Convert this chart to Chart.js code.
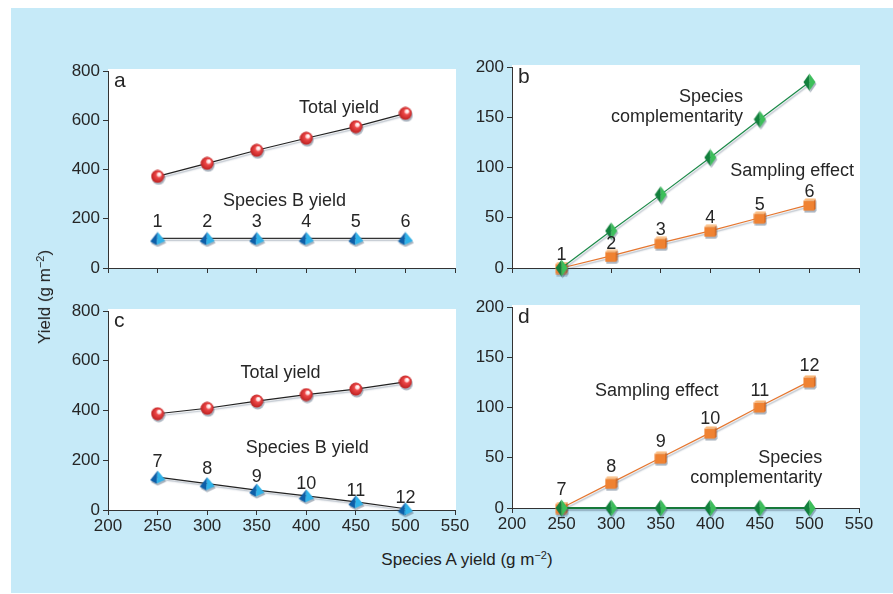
<!DOCTYPE html>
<html><head><meta charset="utf-8">
<script src="https://cdn.jsdelivr.net/npm/chart.js@4"></script>
<style>
body{margin:0;background:#fff;width:893px;height:594px;position:relative;overflow:hidden;font-family:"Liberation Sans",Arial,sans-serif;}
#bg{position:absolute;left:11px;top:8px;width:882px;height:585px;background:#c6eaf8;}
canvas{position:absolute;}
.title{position:absolute;color:#222;font-size:17px;white-space:nowrap;}
#xt{left:467px;top:560px;transform:translate(-50%,-50%);}
#yt{left:45px;top:297px;transform:translate(-50%,-50%) rotate(-90deg);}
sup{font-size:11px;vertical-align:6px;line-height:0;}
</style></head>
<body>
<div id="bg"></div>
<canvas id="pa"></canvas>
<canvas id="pb"></canvas>
<canvas id="pc"></canvas>
<canvas id="pd"></canvas>
<div class="title" id="xt">Species A yield (g m<sup>−2</sup>)</div>
<div class="title" id="yt">Yield (g m<sup>−2</sup>)</div>
<script>
// ---- data ----
const speciesAYield = [250, 300, 350, 400, 450, 500];
const xTickValues = [200, 250, 300, 350, 400, 450, 500, 550];
const yieldTicks = [0, 200, 400, 600, 800];
const effectTicks = [0, 50, 100, 150, 200];
const plotNumbersTop = ['1', '2', '3', '4', '5', '6'];
const plotNumbersBottom = ['7', '8', '9', '10', '11', '12'];
const totalYieldA = [372, 425, 478, 527, 574, 628];
const speciesBYieldA = [120, 120, 120, 120, 120, 120];
const complementarityB = [0, 37, 73, 110, 148, 185];
const samplingB = [0, 12, 25, 37, 50, 63];
const totalYieldC = [387, 409, 438, 464, 486, 515];
const speciesBYieldC = [132, 106, 80, 57, 33, 5];
const samplingD = [0, 25, 50, 75, 101, 126];
const complementarityD = [0, 0, 0, 0, 0, 0];

const FONT = '"Liberation Sans", Arial, sans-serif';
const TXT = '#262626';

// ---- marker images ----
function mk(w, h, draw){ const c=document.createElement('canvas'); c.width=w; c.height=h; draw(c.getContext('2d'), w, h); return c; }
const sphere = mk(14,14,(g,w,h)=>{
  const gr=g.createRadialGradient(9,4.5,0.5,7,7,7);
  gr.addColorStop(0,'#ffffff'); gr.addColorStop(0.22,'#ffd0d0'); gr.addColorStop(0.35,'#ef4a4a'); gr.addColorStop(1,'#b81c1c');
  g.fillStyle=gr; g.beginPath(); g.arc(7,7,6.5,0,Math.PI*2); g.fill();
});
const pyramid = mk(16,14,(g)=>{
  g.fillStyle='#0d5ea8'; g.beginPath(); g.moveTo(8,0.5); g.lineTo(0.5,10); g.lineTo(7,13.5); g.closePath(); g.fill();
  g.fillStyle='#2fb3ea'; g.beginPath(); g.moveTo(8,0.5); g.lineTo(7,13.5); g.lineTo(15.5,9.5); g.closePath(); g.fill();
});
const diamond = mk(13,18,(g)=>{
  g.fillStyle='#12803c'; g.beginPath(); g.moveTo(6.5,0.5); g.lineTo(0.5,9); g.lineTo(6.5,17.5); g.closePath(); g.fill();
  g.fillStyle='#3cbf5a'; g.beginPath(); g.moveTo(6.5,0.5); g.lineTo(12.5,9); g.lineTo(6.5,17.5); g.closePath(); g.fill();
});
const cube = mk(13,13,(g)=>{
  g.fillStyle='#ef8232'; g.fillRect(0.5,2.5,10.5,10);
  g.fillStyle='#f9b777'; g.beginPath(); g.moveTo(0.5,2.5); g.lineTo(2.5,0.5); g.lineTo(12.5,0.5); g.lineTo(11,2.5); g.closePath(); g.fill();
  g.fillStyle='#d8691f'; g.beginPath(); g.moveTo(11,2.5); g.lineTo(12.5,0.5); g.lineTo(12.5,10.5); g.lineTo(11,12.5); g.closePath(); g.fill();
});

// ---- helpers ----
const pts = vals => speciesAYield.map((x,i)=>({x, y: vals[i]}));
function series(vals, color, marker, width){
  return { data: pts(vals), showLine: true, borderColor: color, borderWidth: width||1.2,
    pointStyle: marker, pointRadius: 7, clip: false, tension: 0 };
}
function makeDecor(letter, texts, numbering){
  return {
    id: 'decor',
    beforeDraw(chart){ const {ctx, chartArea:a}=chart; ctx.save(); ctx.fillStyle='#fff';
      ctx.fillRect(a.left, a.top-2, a.right-a.left+1, a.bottom-a.top+2); ctx.restore(); },
    beforeDatasetDraw(chart){ const ctx=chart.ctx; ctx.save(); ctx.shadowColor='rgba(70,90,115,0.45)';
      ctx.shadowOffsetX=1; ctx.shadowOffsetY=2; ctx.shadowBlur=1.5; },
    afterDatasetDraw(chart){ chart.ctx.restore(); },
    afterDatasetsDraw(chart){
      const {ctx, chartArea:a, scales}=chart; ctx.save(); ctx.fillStyle=TXT; ctx.textBaseline='middle';
      ctx.font='21px '+FONT; ctx.textAlign='left'; ctx.fillText(letter, a.left+6, a.top+10);
      ctx.font='18px '+FONT;
      texts.forEach(t=>{ ctx.textAlign=t.align; ctx.fillText(t.text, scales.x.getPixelForValue(t.x), scales.y.getPixelForValue(t.y)); });
      const meta=chart.getDatasetMeta(numbering.dataset); ctx.textAlign='center';
      numbering.labels.forEach((l,i)=>{ const p=meta.data[i]; ctx.fillText(l, p.x, p.y-numbering.offsets[i]); });
      ctx.restore();
    }
  };
}
function makePanel(id, area, ticks, showX, datasets, decor){
  const cv=document.getElementById(id);
  const W=area.right-area.left+80, H=area.bottom-area.top+50;
  cv.width=W; cv.height=H; cv.style.left=(area.left-60)+'px'; cv.style.top=(area.top-20)+'px';
  const axisCommon = {
    grid:{drawOnChartArea:false, drawTicks:true, tickLength:5, color:'#333', lineWidth:1},
    border:{display:true, color:'#333', width:1}
  };
  new Chart(cv, {
    type:'scatter',
    data:{datasets},
    options:{
      responsive:false, animation:false, events:[],
      layout:{padding:{top:20, right:20, left:0, bottom:0}},
      plugins:{legend:{display:false}, tooltip:{enabled:false}},
      scales:{
        x:{...axisCommon, type:'linear', min:xTickValues[0], max:xTickValues[xTickValues.length-1],
          afterFit(s){ s.height=30; },
          ticks:{display:showX, stepSize:xTickValues[1]-xTickValues[0], color:TXT, padding:1, font:{family:FONT, size:17}}},
        y:{...axisCommon, type:'linear', min:ticks[0], max:ticks[ticks.length-1],
          afterFit(s){ s.width=60; },
          ticks:{stepSize:ticks[1]-ticks[0], color:TXT, padding:3, font:{family:FONT, size:17}}}
      }
    },
    plugins:[decor]
  });
}

// ---- panels ----
makePanel('pa', {left:108, right:455, top:71, bottom:268}, yieldTicks, false, [
  series(totalYieldA, '#222', sphere),
  series(speciesBYieldA, '#333', pyramid)
], makeDecor('a', [
  {text:'Total yield', x:433, y:650, align:'center'},
  {text:'Species B yield', x:378, y:272, align:'center'}
], {dataset:1, labels:plotNumbersTop, offsets:[16,16,16,16,16,16]}));

makePanel('pb', {left:512, right:859, top:67, bottom:268}, effectTicks, false, [
  series(complementarityB, '#1b8a48', diamond),
  series(samplingB, '#e5762f', cube)
], makeDecor('b', [
  {text:'Species', x:433, y:170, align:'right'},
  {text:'complementarity', x:433, y:150, align:'right'},
  {text:'Sampling effect', x:545, y:96, align:'right'}
], {dataset:1, labels:plotNumbersTop, offsets:[13,12,13,13,13,13]}));

makePanel('pc', {left:108, right:455, top:311, bottom:510}, yieldTicks, true, [
  series(totalYieldC, '#222', sphere),
  series(speciesBYieldC, '#222', pyramid)
], makeDecor('c', [
  {text:'Total yield', x:374, y:550, align:'center'},
  {text:'Species B yield', x:401, y:249, align:'center'}
], {dataset:1, labels:plotNumbersBottom, offsets:[15,15,13,12,11,11]}));

makePanel('pd', {left:512, right:859, top:307, bottom:508}, effectTicks, true, [
  series(complementarityD, '#16793a', diamond, 2),
  series(samplingD, '#e5762f', cube)
], makeDecor('d', [
  {text:'Sampling effect', x:346, y:116, align:'center'},
  {text:'Species', x:513, y:50, align:'right'},
  {text:'complementarity', x:513, y:30, align:'right'}
], {dataset:1, labels:plotNumbersBottom, offsets:[18,16,16,14,15,15]}));
</script>
</body></html>
